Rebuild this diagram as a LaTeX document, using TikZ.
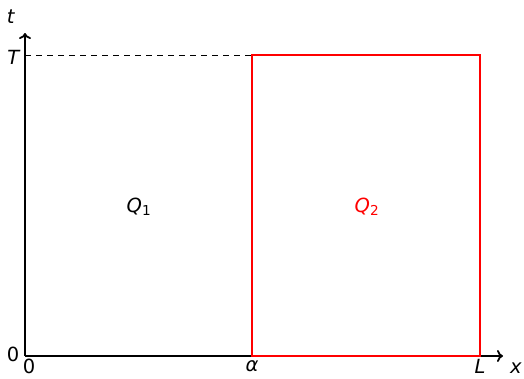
\documentclass[tikz,border=0pt]{standalone}
\usepackage{fontspec}
\setmainfont{DejaVu Sans}
\usetikzlibrary{arrows.meta}
\begin{document}
\begin{tikzpicture}[x=1pt,y=-1pt,
  lbl/.style={inner sep=0pt,font=\fontsize{19.5}{23}\selectfont},
  ax/.style={line width=2.1pt,-{To[length=6pt,width=12pt,line width=1.8pt]}},
  reg/.style={red,line width=2.1pt}]
\useasboundingbox (0,0) rectangle (524,378);
\coordinate (O) at (25,356);
\coordinate (xe) at (503,356);
\coordinate (te) at (25,33);
\coordinate (T) at (25,55);
\coordinate (a0) at (252,356);
\coordinate (a1) at (252,55);
\coordinate (L0) at (480,356);
\coordinate (L1) at (480,55);
\draw[ax] (O) -- (xe);
\draw[ax] (O) -- (te);
\draw[dashed,line width=0.9pt,dash pattern=on 6pt off 5pt] (T) -- (a1);
\draw[reg] (a0) -- (a1) -- (L1) -- (L0) -- cycle;
\node[lbl] (tl) at (11,17) {\textit{t}};
\node[lbl] (Tl) at (14,57) {\textit{T}};
\node[lbl] (z1) at (13,354) {0};
\node[lbl] (z2) at (29,366.5) {0};
\node[lbl] (al) at (252,366) {\textit{α}};
\node[lbl] (Ll) at (480,366.5) {\textit{L}};
\node[lbl] (xl) at (516,368.5) {\textit{x}};
\node[lbl] (q1) at (139,207) {\textit{Q}\textsubscript{1}};
\node[lbl,red] (q2) at (367,207) {\textit{Q}\textsubscript{2}};
\end{tikzpicture}
\end{document}
